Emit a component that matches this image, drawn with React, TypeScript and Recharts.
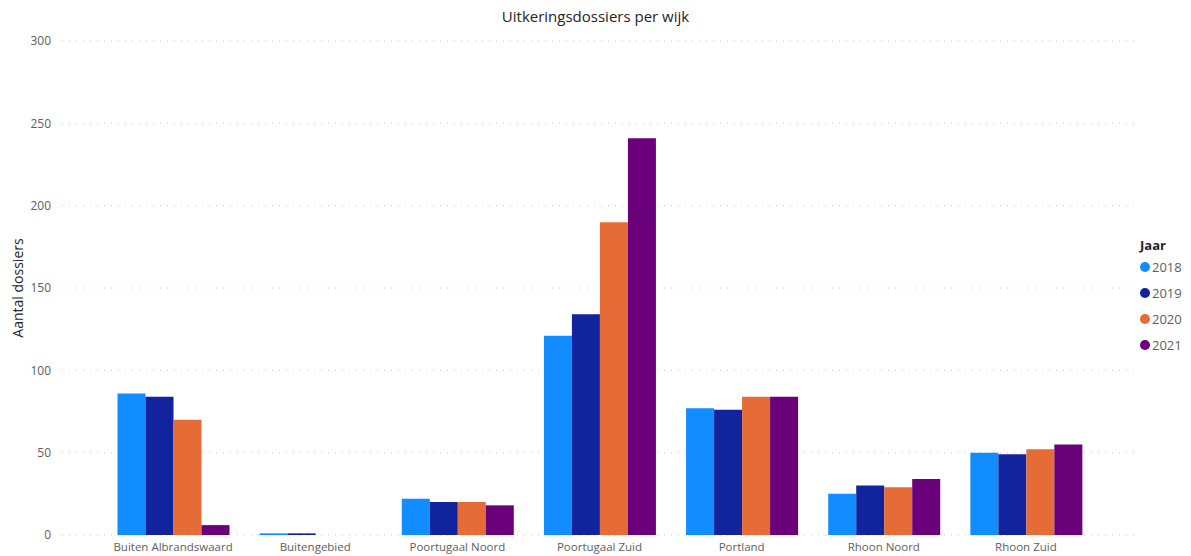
import React from "react";
import { Bar, BarChart, CartesianGrid, Legend, XAxis, YAxis } from "recharts";

const wijken = [
  "Buiten Albrandswaard",
  "Buitengebied",
  "Poortugaal Noord",
  "Poortugaal Zuid",
  "Portland",
  "Rhoon Noord",
  "Rhoon Zuid",
];

const jaren = ["2018", "2019", "2020", "2021"];

const dossiers2018 = [86, 1, 22, 121, 77, 25, 50];
const dossiers2019 = [84, 1, 20, 134, 76, 30, 49];
const dossiers2020 = [70, 0, 20, 190, 84, 29, 52];
const dossiers2021 = [6, 0, 18, 241, 84, 34, 55];

const yTicks = [0, 50, 100, 150, 200, 250, 300];

const COLORS: Record<string, string> = {
  "2018": "#118DFF",
  "2019": "#12239E",
  "2020": "#E66C37",
  "2021": "#6B007B",
};

const FONT = "'Segoe UI', 'Open Sans', sans-serif";

const data = wijken.map((wijk, i) => ({
  wijk,
  "2018": dossiers2018[i],
  "2019": dossiers2019[i],
  "2020": dossiers2020[i],
  "2021": dossiers2021[i],
}));

function AxisTitle(props: any) {
  const { viewBox } = props;
  const cy = viewBox.y + viewBox.height / 2;
  return (
    <text
      x={17}
      y={cy}
      transform={`rotate(-90, 17, ${cy})`}
      textAnchor="middle"
      dominantBaseline="central"
      fill="#252423"
      fontSize={14}
      fontFamily={FONT}
    >
      Aantal dossiers
    </text>
  );
}

function JaarLegend() {
  return (
    <div style={{ fontFamily: FONT }}>
      <div
        style={{
          fontSize: 13,
          fontWeight: 700,
          color: "#252423",
          height: 18,
          lineHeight: "18px",
        }}
      >
        Jaar
      </div>
      {jaren.map((j) => (
        <div
          key={j}
          style={{
            display: "flex",
            alignItems: "center",
            height: 26,
            fontSize: 13,
            color: "#605E5C",
          }}
        >
          <span
            style={{
              width: 10,
              height: 10,
              borderRadius: 5,
              background: COLORS[j],
              marginRight: 2,
              display: "inline-block",
            }}
          />
          {j}
        </div>
      ))}
    </div>
  );
}

export default function App() {
  return (
    <div
      style={{
        position: "absolute",
        left: 0,
        top: 0,
        width: 1191,
        height: 556,
        background: "#fff",
      }}
    >
      <div
        style={{
          position: "absolute",
          left: 0,
          width: 1191,
          top: 6,
          textAlign: "center",
          fontFamily: FONT,
          fontSize: 15,
          color: "#252423",
        }}
      >
        Uitkeringsdossiers per wijk
      </div>
      <BarChart
        width={1191}
        height={556}
        data={data}
        margin={{ top: 41, right: 53, left: 0, bottom: 0 }}
        barCategoryGap={15.5}
        barGap={0}
        accessibilityLayer={false}
      >
        <CartesianGrid
          vertical={false}
          stroke="#C8C6C4"
          strokeDasharray="1 6"
        />
        <XAxis
          dataKey="wijk"
          height={21}
          padding={{ left: 40, right: 41 }}
          axisLine={false}
          tickLine={false}
          tickSize={0}
          tickMargin={8}
          interval={0}
          tick={{ fill: "#605E5C", fontSize: 11.5, fontFamily: FONT }}
        />
        <YAxis
          width={62}
          domain={[0, 300]}
          ticks={yTicks}
          axisLine={false}
          tickLine={false}
          tickSize={0}
          tickMargin={11}
          tick={{ fill: "#605E5C", fontSize: 12, fontFamily: FONT }}
          label={<AxisTitle />}
        />
        <Legend
          layout="horizontal"
          verticalAlign="middle"
          align="center"
          content={<JaarLegend />}
          wrapperStyle={{ left: 1140, top: 236, width: 51 }}
        />
        {jaren.map((j) => (
          <Bar
            key={j}
            dataKey={j}
            fill={COLORS[j]}
            isAnimationActive={false}
          />
        ))}
      </BarChart>
    </div>
  );
}
